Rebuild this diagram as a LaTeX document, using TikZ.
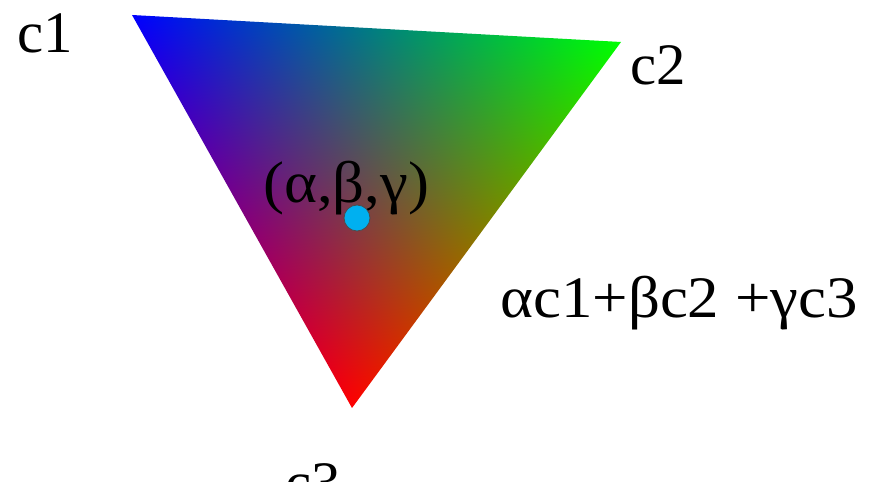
\documentclass[tikz,border=0pt]{standalone}
\usepackage{fontspec}
\setmainfont{Liberation Serif}
\newfontfamily\widefont[FakeStretch=1.07]{Liberation Serif}
\usepackage{xcolor}
\usepackage{tikz}

\definecolor{dotcyan}{RGB}{0,176,240}

% barycentric colour blend: blue (c1), green (c2), red (c3)
\pgfdeclarefunctionalshading{bary}{\pgfpoint{0bp}{0bp}}{\pgfpoint{869bp}{482bp}}{}{
  74 sub exch 352 sub
  2 copy
  393 mul exch 220 mul add 186237 div
  3 1 roll
  -366 mul exch 269 mul add 186237 div
  2 copy add 1 exch sub
  3 1 roll
}

\begin{document}
\begin{tikzpicture}[
    x=1bp, y=1bp,
    font=\fontsize{59}{60}\selectfont,
    lbl/.style={anchor=base west, inner sep=0pt},
    widelbl/.style={lbl, font=\fontsize{59}{60}\widefont},
    dot/.style={circle, fill=dotcyan, draw=black!70, line width=0.8bp,
        minimum size=26bp, inner sep=0pt}
]
\useasboundingbox (0,0) rectangle (869,482);

% Triangle corners
\coordinate (v1) at (132,467);
\coordinate (v2) at (621,440);
\coordinate (v3) at (352,74);

% Shaded triangle
\begin{scope}
\clip (v1) -- (v2) -- (v3) -- cycle;
\node[anchor=south west, inner sep=0pt] (shade) at (0,0) {\pgfuseshading{bary}};
\end{scope}

% Corner labels
\node[lbl] (c1) at (17,429) {c1};
\node[lbl] (c2) at (630,397) {c2};
\node[lbl] (c3) at (285,-21) {c3};

% Point and formula
\node[widelbl] (abg) at (263,279) {(α,β,γ)};
\node[dot] (p) at (357,264) {};
\node[widelbl] (sum) at (500,164) {αc1+βc2 +γc3};

\end{tikzpicture}
\end{document}
